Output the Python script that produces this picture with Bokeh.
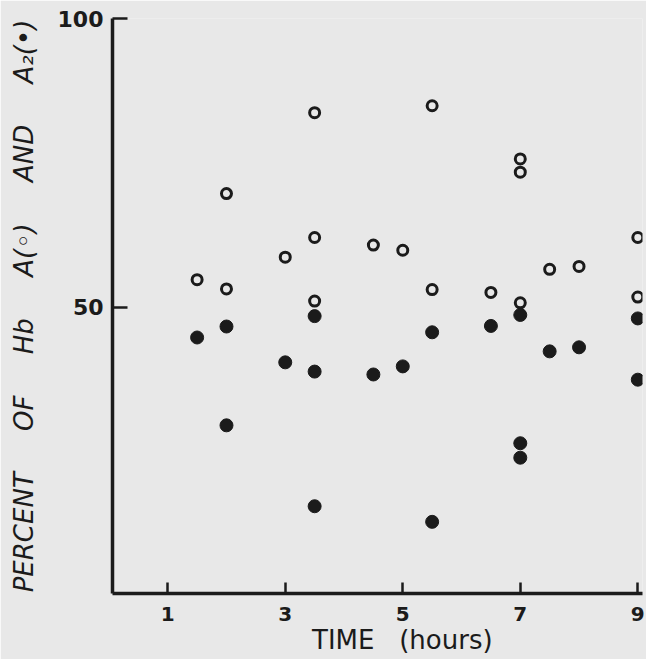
from bokeh.plotting import figure
from bokeh.models import Range1d, FixedTicker
from bokeh.embed import file_html
from bokeh.resources import INLINE

# ---- data ----
hba_time = [1.5, 2, 2, 3, 3.5, 3.5, 3.5, 4.5, 5, 5.5, 5.5, 6.5, 7, 7, 7, 7.5, 8, 9, 9]
hba_pct = [54.8, 69.7, 53.2, 58.7, 83.7, 62.1, 51.1, 60.8, 59.9, 84.9, 53.1, 52.6,
           75.7, 73.4, 50.8, 56.6, 57.1, 62.1, 51.8]
a2_time = [1.5, 2, 2, 3, 3.5, 3.5, 3.5, 4.5, 5, 5.5, 5.5, 6.5, 7, 7, 7, 7.5, 8, 9, 9]
a2_pct = [44.8, 46.7, 29.6, 40.5, 48.5, 38.9, 15.6, 38.4, 39.8, 45.7, 12.9, 46.8,
          48.7, 26.5, 24.0, 42.4, 43.1, 48.1, 37.5]
x_ticks = [1, 3, 5, 7, 9]
y_ticks = [50, 100]

BG = "#e8e8e8"
INK = "#1b1b1b"
NB = "\u00A0"

p = figure(width=646, height=659,
           x_range=Range1d(0.06, 9.08), y_range=Range1d(0.5, 100),
           output_backend="svg", toolbar_location=None,
           min_border_left=112, min_border_right=4,
           min_border_top=18, min_border_bottom=66)
p.background_fill_color = BG
p.border_fill_color = BG
p.outline_line_color = None
p.grid.visible = False

for ax in (p.xaxis[0], p.yaxis[0]):
    ax.axis_line_width = 3.5
    ax.axis_line_color = INK
    ax.major_tick_line_color = INK
    ax.major_tick_line_width = 2.5
    ax.minor_tick_line_color = None
    ax.major_label_text_color = INK
    ax.major_label_text_font = "DejaVu Sans"
    ax.major_label_text_font_style = "bold"
    ax.axis_label_text_color = INK
    ax.axis_label_text_font = "DejaVu Sans"

xa = p.xaxis[0]
xa.ticker = FixedTicker(ticks=x_ticks)
xa.major_tick_in = 11
xa.major_tick_out = 0
xa.major_label_text_font_size = "20px"
xa.major_label_standoff = 13
xa.axis_label = NB * 6 + "TIME" + NB * 3 + "(hours)"
xa.axis_label_text_font_size = "26px"
xa.axis_label_text_font_style = "normal"
xa.axis_label_standoff = 1

ya = p.yaxis[0]
ya.ticker = FixedTicker(ticks=y_ticks)
ya.major_tick_in = 15
ya.major_tick_out = 0
ya.major_label_text_font_size = "22px"
ya.major_label_standoff = 9
gap = NB * 5
ya.axis_label = "PERCENT" + gap + "OF" + gap + "Hb" + gap + "A(\u25E6)" + gap + "AND" + gap + "A\u2082(\u2022)"
ya.axis_label_text_font_size = "26px"
ya.axis_label_text_font_style = "italic"
ya.axis_label_standoff = 16

p.scatter(hba_time, hba_pct, marker="circle", size=10, line_width=3,
          line_color=INK, fill_color=BG)
p.scatter(a2_time, a2_pct, marker="circle", size=13, line_width=1,
          line_color=INK, fill_color=INK)

open("out.html", "w").write(file_html(p, INLINE))
